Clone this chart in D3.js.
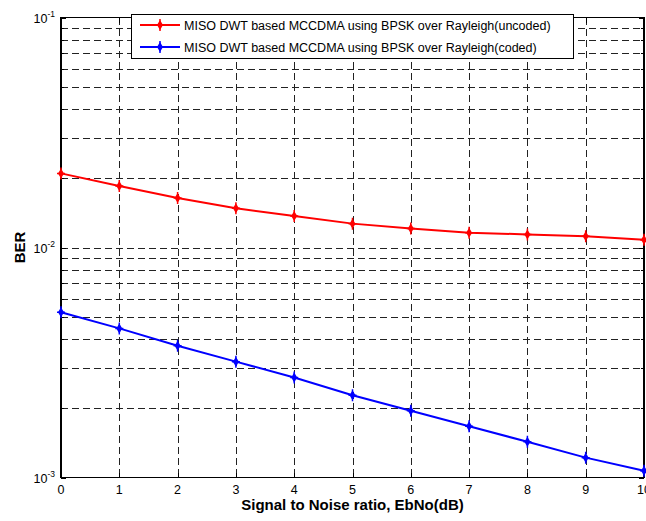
<!DOCTYPE html>
<html>
<head>
<meta charset="utf-8">
<script src="https://cdn.jsdelivr.net/npm/d3@7"></script>
<style>
  body { margin: 0; background: #fff; }
  svg { display: block; font-family: "Liberation Sans", Arial, sans-serif; }
</style>
</head>
<body>
<div class="chart"></div>
<script>
// data
var ebno = [0, 1, 2, 3, 4, 5, 6, 7, 8, 9, 10];
var berUncoded = [0.0210, 0.0185, 0.0164, 0.0148, 0.0137, 0.0127, 0.0121, 0.0116, 0.0114, 0.0112, 0.0108];
var berCoded = [0.00523, 0.00445, 0.00374, 0.00319, 0.00272, 0.00228, 0.00195, 0.00167, 0.00143, 0.00122, 0.00107];
var seriesNames = ["MISO DWT based MCCDMA using BPSK over Rayleigh(uncoded)",
                   "MISO DWT based MCCDMA using BPSK over Rayleigh(coded)"];
var seriesColors = ["#ff0000", "#0000ff"];
var xTicks = [0, 1, 2, 3, 4, 5, 6, 7, 8, 9, 10];
var yMajor = [1e-3, 1e-2, 1e-1];
var yExp = ["-3", "-2", "-1"];

var width = 646;
var height = 521;
var pLeft = 61, pRight = 644, pTop = 17.5, pBottom = 477.5;

var svg = d3.select(".chart")
  .append("svg")
    .attr("width", width)
    .attr("height", height);

var x = d3.scaleLinear().domain([0, 10]).range([pLeft, pRight]);
var y = d3.scaleLog().domain([1e-3, 1e-1]).range([pBottom, pTop]);

// minor grid values for the log axis
var yGrid = [];
[1e-3, 1e-2].forEach(function(d) {
  for (var k = 1; k <= 9; k++) yGrid.push(d * k);
});
yGrid.push(1e-1);

var grid = svg.append("g").attr("shape-rendering", "crispEdges");

grid.selectAll(".hgrid")
  .data(yGrid.filter(function(d) { return d > 1.01e-3 && d < 0.99e-1; }))
  .enter()
  .append("line")
    .attr("x1", pLeft).attr("x2", pRight)
    .attr("y1", function(d) { return Math.round(y(d)) + 0.5; })
    .attr("y2", function(d) { return Math.round(y(d)) + 0.5; })
    .style("stroke", "#222")
    .style("stroke-dasharray", "7,4");

grid.selectAll(".vgrid")
  .data(xTicks.filter(function(d) { return d > 0 && d < 10; }))
  .enter()
  .append("line")
    .attr("x1", function(d) { return Math.round(x(d)) + 0.5; })
    .attr("x2", function(d) { return Math.round(x(d)) + 0.5; })
    .attr("y1", pTop).attr("y2", pBottom)
    .style("stroke", "#222")
    .style("stroke-dasharray", "7,4");

// ticks, inward on all four sides
var ticks = svg.append("g").attr("shape-rendering", "crispEdges").style("stroke", "#000");
yGrid.forEach(function(d) {
  var len = yMajor.some(function(m) { return Math.abs(m - d) / m < 0.01; }) ? 5 : 3;
  var yy = Math.round(y(d)) + 0.5;
  ticks.append("line").attr("x1", pLeft).attr("x2", pLeft + len).attr("y1", yy).attr("y2", yy);
  ticks.append("line").attr("x1", pRight - len).attr("x2", pRight).attr("y1", yy).attr("y2", yy);
});
xTicks.forEach(function(d) {
  var xx = Math.round(x(d)) + 0.5;
  ticks.append("line").attr("x1", xx).attr("x2", xx).attr("y1", pBottom - 5).attr("y2", pBottom);
  ticks.append("line").attr("x1", xx).attr("x2", xx).attr("y1", pTop).attr("y2", pTop + 5);
});

// axes box
svg.append("rect")
  .attr("x", pLeft).attr("y", pTop)
  .attr("width", pRight - pLeft).attr("height", pBottom - pTop)
  .attr("shape-rendering", "crispEdges")
  .style("fill", "none")
  .style("stroke", "#000")
  .style("stroke-width", 1.3);

// tick labels
svg.append("g")
  .selectAll("text")
  .data(xTicks)
  .enter()
  .append("text")
    .attr("x", function(d) { return x(d); })
    .attr("y", 494)
    .attr("text-anchor", "middle")
    .style("font-size", "12.5px")
    .text(function(d) { return d; });

var yl = svg.append("g")
  .selectAll("text")
  .data(yMajor)
  .enter()
  .append("text")
    .attr("x", 55)
    .attr("y", function(d) { return y(d) + 5; })
    .attr("text-anchor", "end")
    .style("font-size", "12.5px");
yl.append("tspan").text("10");
yl.append("tspan")
  .attr("dy", -6)
  .style("font-size", "8.5px")
  .text(function(d, i) { return yExp[i]; });

// axis titles
svg.append("text")
  .attr("x", (pLeft + pRight) / 2)
  .attr("y", 510)
  .attr("text-anchor", "middle")
  .style("font-size", "15px")
  .style("font-weight", "bold")
  .text("Signal to Noise ratio, EbNo(dB)");

svg.append("text")
  .attr("transform", "translate(25," + ((pTop + pBottom) / 2) + ") rotate(-90)")
  .attr("text-anchor", "middle")
  .style("font-size", "15px")
  .style("font-weight", "bold")
  .text("BER");

// lines and markers
var line = d3.line()
  .x(function(d, i) { return x(ebno[i]); })
  .y(function(d) { return y(d); });

function marker(g, cx, cy, col) {
  g.append("path")
    .attr("d", "M" + cx + "," + (cy - 5) + "L" + (cx + 3) + "," + cy + "L" + cx + "," + (cy + 5) + "L" + (cx - 3) + "," + cy + "Z")
    .style("fill", col);
  g.append("path")
    .attr("d", "M" + (cx - 4) + "," + cy + "H" + (cx + 4) + "M" + cx + "," + (cy - 6) + "V" + (cy + 6))
    .style("stroke", col)
    .style("stroke-width", 1.5);
}

[berUncoded, berCoded].forEach(function(vals, s) {
  var g = svg.append("g");
  g.append("path")
    .datum(vals)
    .attr("d", line)
    .style("fill", "none")
    .style("stroke", seriesColors[s])
    .style("stroke-width", 2);
  vals.forEach(function(v, i) {
    marker(g, x(ebno[i]), y(v), seriesColors[s]);
  });
});

// legend
var lg = svg.append("g");
lg.append("rect")
  .attr("x", 131.5).attr("y", 14.5)
  .attr("width", 442).attr("height", 44)
  .style("fill", "#fff")
  .style("stroke", "#000");
seriesNames.forEach(function(name, i) {
  var ly = 25 + i * 22;
  lg.append("line")
    .attr("x1", 140).attr("x2", 180)
    .attr("y1", ly).attr("y2", ly)
    .style("stroke", seriesColors[i])
    .style("stroke-width", 2);
  marker(lg, 160, ly, seriesColors[i]);
  lg.append("text")
    .attr("x", 184)
    .attr("y", ly + 4.5)
    .style("font-size", "12.5px")
    .text(name);
});
</script>
</body>
</html>
